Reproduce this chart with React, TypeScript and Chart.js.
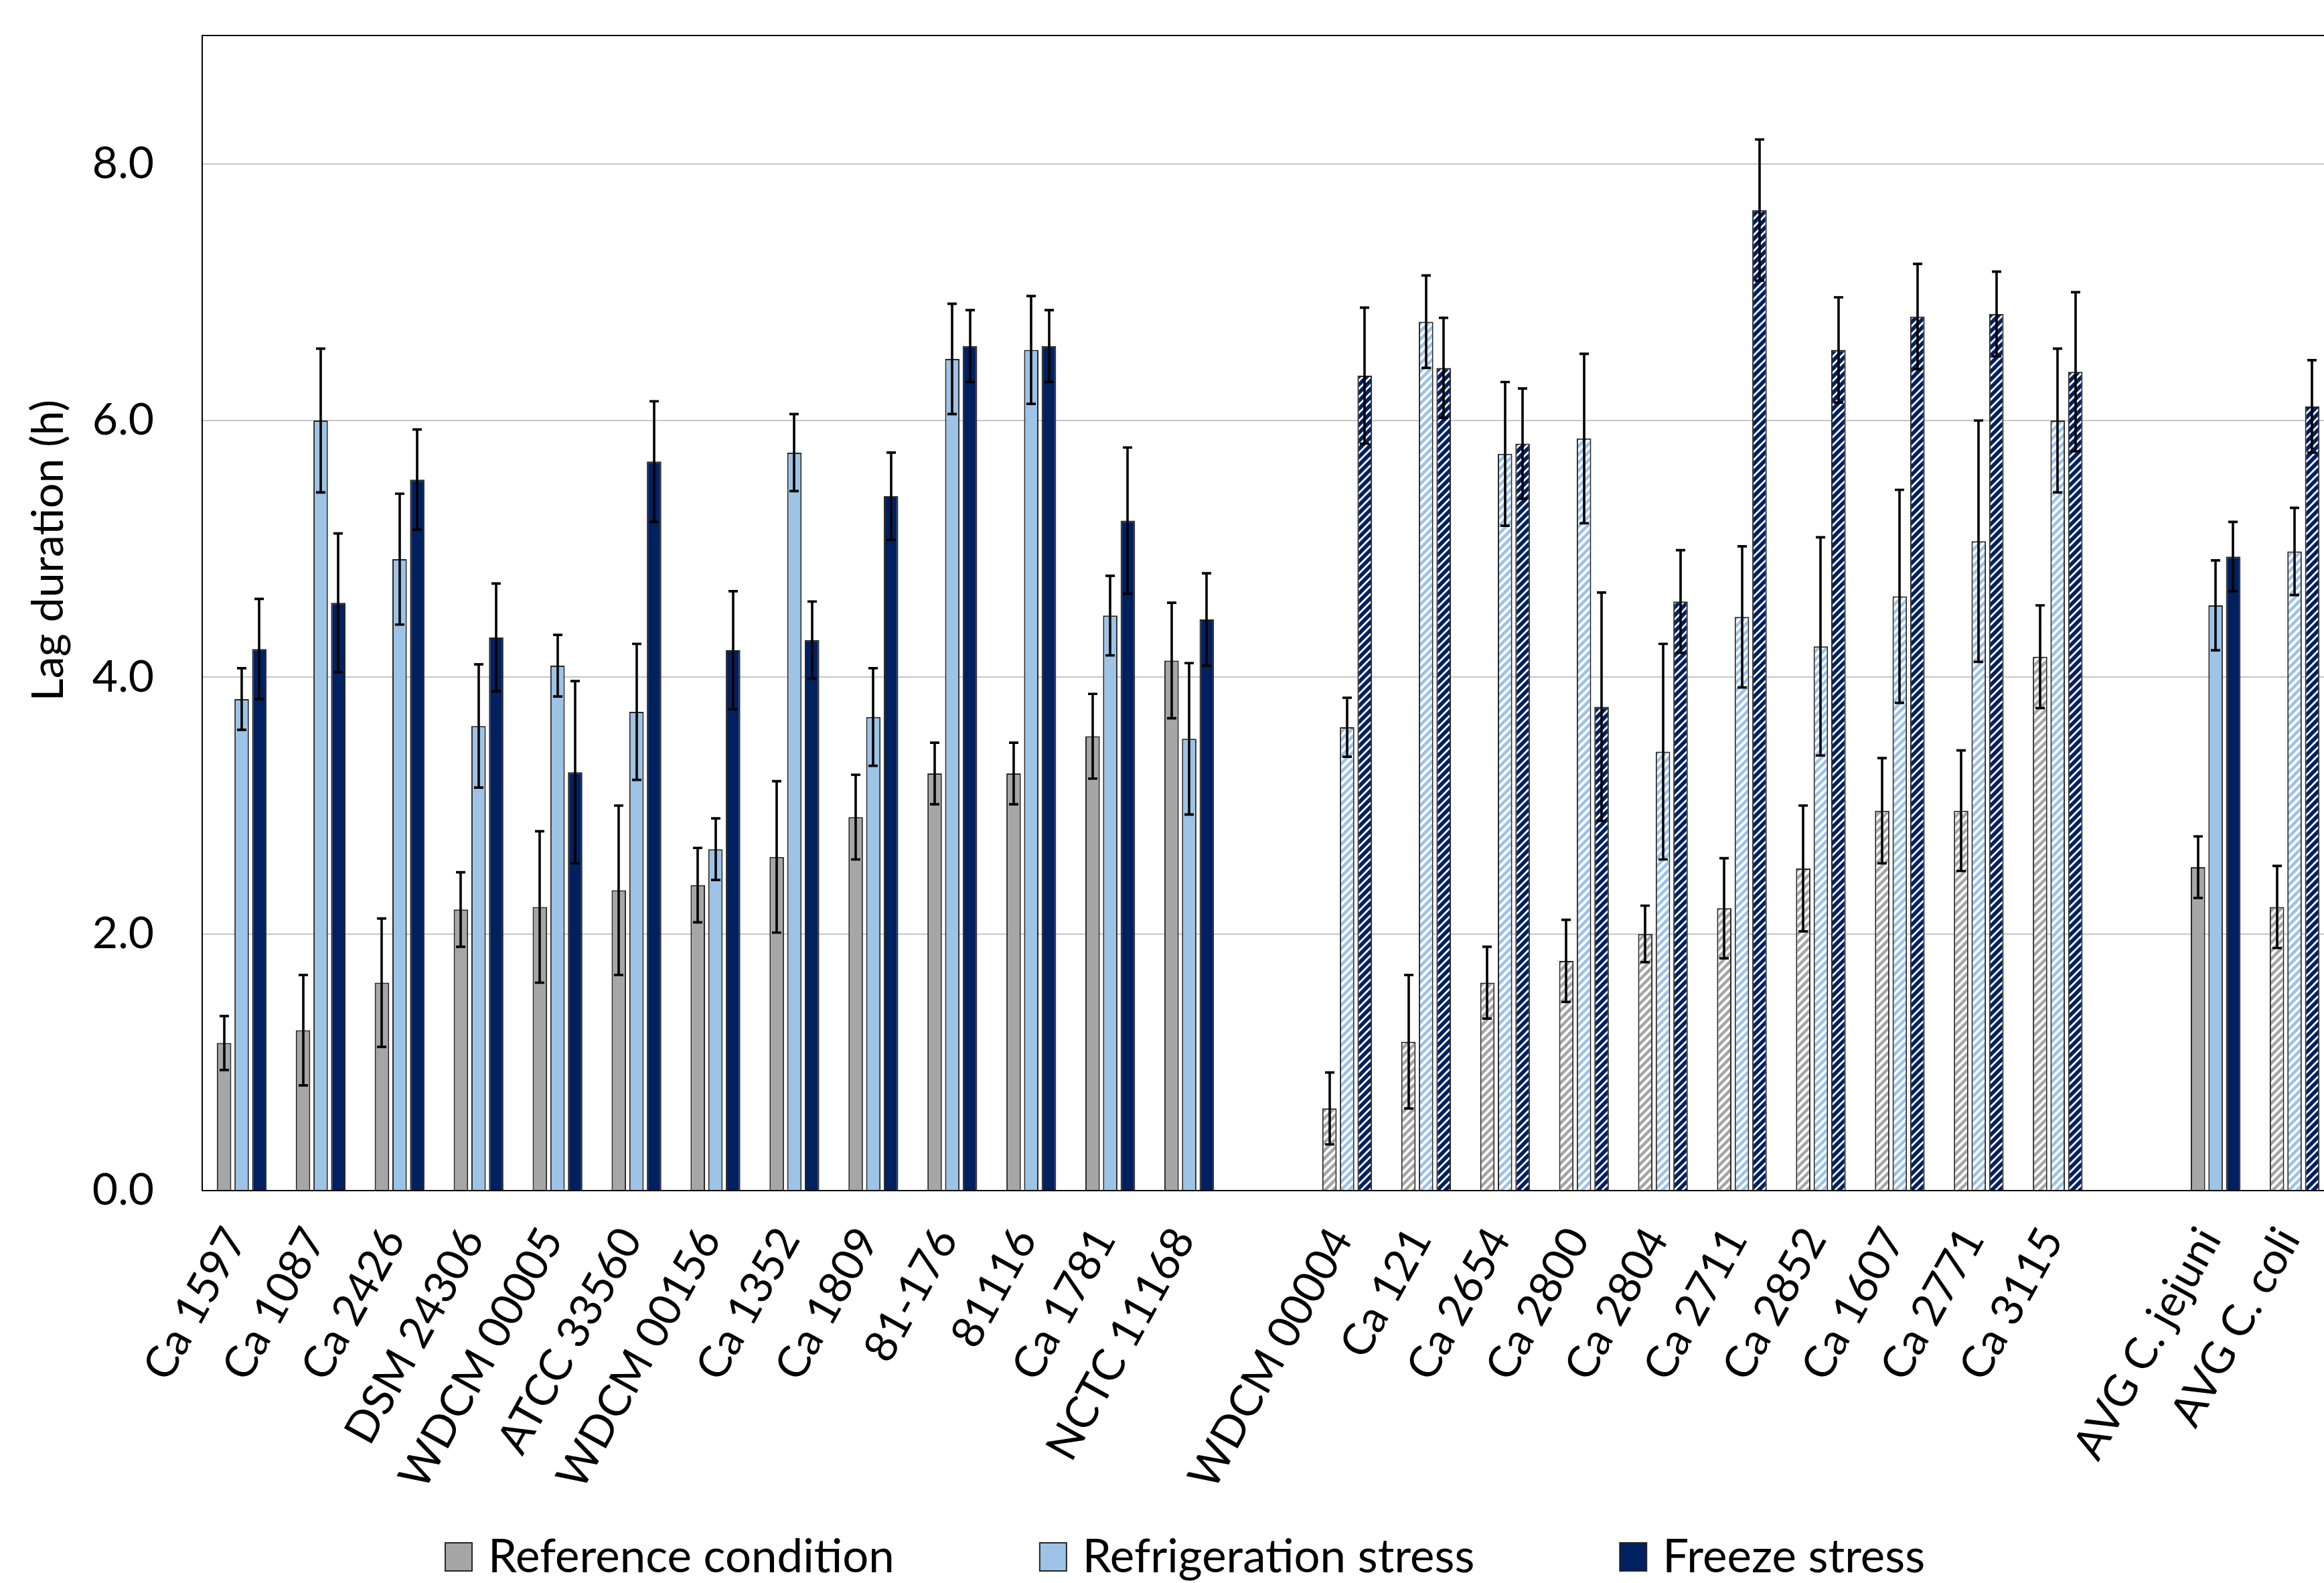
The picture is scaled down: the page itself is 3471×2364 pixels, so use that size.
import React, { useEffect, useRef } from 'react';
import { Chart, registerables } from 'chart.js';

Chart.register(...registerables);

// ---------------- data ----------------
const categories: string[] = [
  'Ca 1597', 'Ca 1087', 'Ca 2426', 'DSM 24306', 'WDCM 00005', 'ATCC 33560', 'WDCM 00156',
  'Ca 1352', 'Ca 1809', '81-176', '81116', 'Ca 1781', 'NCTC 11168',
  '',
  'WDCM 00004', 'Ca 121', 'Ca 2654', 'Ca 2800', 'Ca 2804', 'Ca 2711', 'Ca 2852', 'Ca 1607', 'Ca 2771', 'Ca 3115',
  '',
  'AVG C. jejuni', 'AVG C. coli',
];

// species of each category: 'j' = C. jejuni (solid), 'c' = C. coli (hatched), '' = gap
const species: string[] = [
  'j', 'j', 'j', 'j', 'j', 'j', 'j', 'j', 'j', 'j', 'j', 'j', 'j',
  '',
  'c', 'c', 'c', 'c', 'c', 'c', 'c', 'c', 'c', 'c',
  '',
  'j', 'c',
];

const seriesNames: string[] = ['Reference condition', 'Refrigeration stress', 'Freeze stress'];

const referenceValues: (number | null)[] = [
  1.15, 1.25, 1.62, 2.19, 2.21, 2.34, 2.38, 2.60, 2.91, 3.25, 3.25, 3.54, 4.13,
  null,
  0.64, 1.16, 1.62, 1.79, 2.00, 2.20, 2.51, 2.96, 2.96, 4.16,
  null,
  2.52, 2.21,
];
const referenceErrors: (number | null)[] = [
  0.21, 0.43, 0.50, 0.29, 0.59, 0.66, 0.29, 0.59, 0.33, 0.24, 0.24, 0.33, 0.45,
  null,
  0.28, 0.52, 0.28, 0.32, 0.22, 0.39, 0.49, 0.41, 0.47, 0.40,
  null,
  0.24, 0.32,
];

const refrigerationValues: (number | null)[] = [
  3.83, 6.00, 4.92, 3.62, 4.09, 3.73, 2.66, 5.75, 3.69, 6.48, 6.55, 4.48, 3.52,
  null,
  3.61, 6.77, 5.74, 5.86, 3.42, 4.47, 4.24, 4.63, 5.06, 6.00,
  null,
  4.56, 4.98,
];
const refrigerationErrors: (number | null)[] = [
  0.24, 0.56, 0.51, 0.48, 0.24, 0.53, 0.24, 0.30, 0.38, 0.43, 0.42, 0.31, 0.59,
  null,
  0.23, 0.36, 0.56, 0.66, 0.84, 0.55, 0.85, 0.83, 0.94, 0.56,
  null,
  0.35, 0.34,
];

const freezeValues: (number | null)[] = [
  4.22, 4.58, 5.54, 4.31, 3.26, 5.68, 4.21, 4.29, 5.41, 6.58, 6.58, 5.22, 4.45,
  null,
  6.35, 6.41, 5.82, 3.77, 4.59, 7.64, 6.55, 6.81, 6.83, 6.38,
  null,
  4.94, 6.11,
];
const freezeErrors: (number | null)[] = [
  0.39, 0.54, 0.39, 0.42, 0.71, 0.47, 0.46, 0.30, 0.34, 0.28, 0.28, 0.57, 0.36,
  null,
  0.53, 0.39, 0.43, 0.89, 0.40, 0.55, 0.41, 0.41, 0.33, 0.62,
  null,
  0.27, 0.36,
];

const yTickValues: number[] = [0, 2, 4, 6, 8];
const yMax = 9;
const yTitle = 'Lag duration (h)';

// ---------------- styles ----------------
const seriesColors = ['#A6A6A6', '#9DC3E6', '#002060'];
const hatchWidths = [4.6, 4.6, 5.8];
const FONT = "Lato, 'Open Sans', 'Liberation Sans', sans-serif";
const CANVAS_W = 3540;
const CANVAS_H = 2364;
const AREA_TOP = 53;
const AREA_BOTTOM = 1778;
const AREA_LEFT = 302;
const LABEL_ANGLE = 61; // degrees
const LABEL_DX = 10;
const LABEL_DY = 72;

function makeHatch(ctx: CanvasRenderingContext2D, color: string, lw: number): CanvasPattern | string {
  const s = 12;
  const tile = document.createElement('canvas');
  tile.width = s;
  tile.height = s;
  const t = tile.getContext('2d');
  if (!t) return color;
  t.fillStyle = '#ffffff';
  t.fillRect(0, 0, s, s);
  t.strokeStyle = color;
  t.lineWidth = lw;
  t.lineCap = 'square';
  const seg = (x1: number, y1: number, x2: number, y2: number) => {
    t.beginPath();
    t.moveTo(x1, y1);
    t.lineTo(x2, y2);
    t.stroke();
  };
  seg(0, s, s, 0);
  seg(-s / 2, s / 2, s / 2, -s / 2);
  seg(s / 2, s * 1.5, s * 1.5, s / 2);
  const p = ctx.createPattern(tile, 'repeat');
  return p || color;
}

export default function App() {
  const ref = useRef<HTMLCanvasElement>(null);

  useEffect(() => {
    const canvas = ref.current;
    if (!canvas) return;
    const ctx = canvas.getContext('2d');
    if (!ctx) return;

    const hatches = seriesColors.map((c, i) => makeHatch(ctx, c, hatchWidths[i]));
    const valueSets = [referenceValues, refrigerationValues, freezeValues];
    const errorSets = [referenceErrors, refrigerationErrors, freezeErrors];

    const datasets = seriesNames.map((name, si) => ({
      label: name,
      data: valueSets[si],
      backgroundColor: (c: any) => (species[c.dataIndex] === 'c' ? hatches[si] : seriesColors[si]),
      borderColor: '#262626',
      borderWidth: 2,
      categoryPercentage: 0.67,
      barPercentage: 0.82,
    }));

    const framePlugin = {
      id: 'frame',
      afterDatasetsDraw(chart: any) {
        const { ctx: c, chartArea: a } = chart;
        c.save();
        c.strokeStyle = '#000';
        c.lineWidth = 2;
        c.strokeRect(a.left, a.top, a.right - a.left, a.bottom - a.top);
        c.restore();
      },
    };

    const errorBarPlugin = {
      id: 'errorBars',
      afterDatasetsDraw(chart: any) {
        const c = chart.ctx;
        const ys = chart.scales.y;
        c.save();
        c.strokeStyle = '#000';
        c.lineWidth = 3.6;
        chart.data.datasets.forEach((ds: any, di: number) => {
          const meta = chart.getDatasetMeta(di);
          const errs = errorSets[di];
          meta.data.forEach((el: any, i: number) => {
            const v = ds.data[i];
            const e = errs[i];
            if (v == null || e == null) return;
            const x = Math.round(el.x);
            const yt = ys.getPixelForValue(v + e);
            const yb = ys.getPixelForValue(v - e);
            const cap = 7;
            c.beginPath();
            c.moveTo(x, yt);
            c.lineTo(x, yb);
            c.moveTo(x - cap, yt);
            c.lineTo(x + cap, yt);
            c.moveTo(x - cap, yb);
            c.lineTo(x + cap, yb);
            c.stroke();
          });
        });
        c.restore();
      },
    };

    const textPlugin = {
      id: 'texts',
      afterDraw(chart: any) {
        const c = chart.ctx;
        const xs = chart.scales.x;
        c.save();
        // category labels, rotated
        c.fillStyle = '#000';
        c.font = `66px ${FONT}`;
        c.textAlign = 'right';
        c.textBaseline = 'alphabetic';
        categories.forEach((lab, i) => {
          if (!lab) return;
          const x = xs.getPixelForValue(i);
          c.save();
          c.translate(x + LABEL_DX, AREA_BOTTOM + LABEL_DY);
          c.rotate((-LABEL_ANGLE * Math.PI) / 180);
          c.fillText(lab, 0, 0);
          c.restore();
        });
        // y axis title
        c.save();
        c.font = `66px ${FONT}`;
        c.textAlign = 'center';
        c.textBaseline = 'middle';
        c.translate(73, 822);
        c.rotate(-Math.PI / 2);
        c.fillText(yTitle, 0, 0);
        c.restore();

        // legend
        const fontSize = 69;
        const box = 40;
        const boxGap = 24;
        const itemGap = 217;
        c.font = `${fontSize}px ${FONT}`;
        c.textBaseline = 'middle';
        c.textAlign = 'left';
        const widths = seriesNames.map((n) => box + boxGap + c.measureText(n).width);
        const total = widths.reduce((a, b) => a + b, 0) + itemGap * (seriesNames.length - 1);
        let lx = chart.width / 2 - total / 2;
        const yc = 2326;
        seriesNames.forEach((n, i) => {
          c.fillStyle = seriesColors[i];
          c.fillRect(lx, yc - box / 2 - 2, box, box + 2);
          c.strokeStyle = '#262626';
          c.lineWidth = 2;
          c.strokeRect(lx, yc - box / 2 - 2, box, box + 2);
          c.fillStyle = '#000';
          c.fillText(n, lx + box + boxGap, yc);
          lx += widths[i] + itemGap;
        });
        c.restore();
      },
    };

    const chart = new Chart(ctx, {
      type: 'bar',
      data: { labels: categories, datasets: datasets as any },
      options: {
        responsive: false,
        animation: false,
        devicePixelRatio: 1,
        layout: { padding: { left: 0, top: AREA_TOP, right: CANVAS_W - 3486, bottom: 0 } },
        plugins: {
          legend: { display: false },
          tooltip: { enabled: false },
        },
        scales: {
          x: {
            grid: { display: false },
            border: { display: false },
            ticks: { display: false, autoSkip: false },
            afterFit(scale: any) {
              scale.height = CANVAS_H - AREA_BOTTOM;
              scale.paddingLeft = 0;
              scale.paddingRight = 0;
            },
          },
          y: {
            min: 0,
            max: yMax,
            grid: { color: '#C6C6C6', lineWidth: 2, drawTicks: false },
            border: { display: false },
            ticks: {
              padding: 72,
              color: '#000',
              font: { family: FONT, size: 66 },
              callback: (v: any) => Number(v).toFixed(1),
            },
            afterBuildTicks(scale: any) {
              scale.ticks = yTickValues.map((v) => ({ value: v }));
            },
            title: { display: false },
            afterFit(scale: any) {
              scale.width = AREA_LEFT;
              scale.paddingTop = 0;
              scale.paddingBottom = 0;
            },
          },
        },
      },
      plugins: [framePlugin, errorBarPlugin, textPlugin],
    });

    return () => chart.destroy();
  }, []);

  return (
    <div
      style={{
        position: 'fixed',
        left: 0,
        top: 0,
        width: '100vw',
        height: '100vh',
        overflow: 'hidden',
        background: '#ffffff',
      }}
    >
      <canvas
        ref={ref}
        width={CANVAS_W}
        height={CANVAS_H}
        style={{ display: 'block', width: CANVAS_W, height: CANVAS_H }}
      />
    </div>
  );
}
